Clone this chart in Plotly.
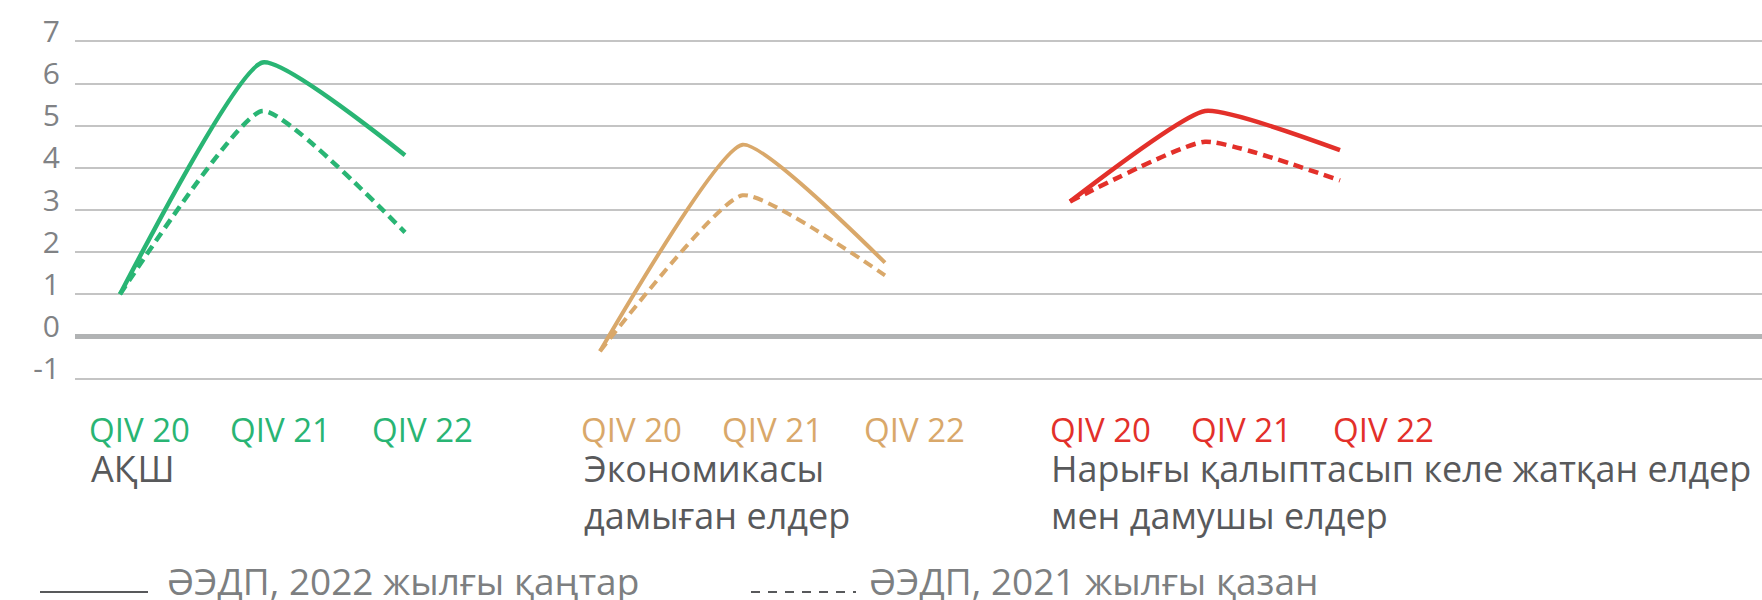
import plotly.graph_objects as go

# ---------------- data ----------------
quarters = ["QIV 20", "QIV 21", "QIV 22"]
groups = ["АҚШ", "Экономикасы<br>дамыған елдер", "Нарығы қалыптасып келе жатқан елдер<br>мен дамушы елдер"]
weo_jan_2022 = {  # solid
    "АҚШ": [1.0, 6.5, 4.3],
    "Экономикасы<br>дамыған елдер": [-0.35, 4.55, 1.75],
    "Нарығы қалыптасып келе жатқан елдер<br>мен дамушы елдер": [3.2, 5.35, 4.42],
}
weo_oct_2021 = {  # dashed
    "АҚШ": [1.0, 5.35, 2.47],
    "Экономикасы<br>дамыған елдер": [-0.35, 3.35, 1.45],
    "Нарығы қалыптасып келе жатқан елдер<br>мен дамушы елдер": [3.2, 4.62, 3.7],
}
y_ticks = [-1, 0, 1, 2, 3, 4, 5, 6, 7]
y_ticktext = ["-1", "0", "1", "2", "3", "4", "5", "6", "7"]
legend_solid = "ӘЭДП, 2022 жылғы қаңтар"
legend_dashed = "ӘЭДП, 2021 жылғы қазан"

# ---------------- layout / style ----------------
W, H = 1762, 600
ML, MR = 75, 0
MT, MB = 32.5, 212.5
PLOT_W = W - ML - MR
PLOT_H = H - MT - MB
colors = ["#29b574", "#d9a86a", "#e3302a"]
line_widths = [4.5, 4, 4.5]
group_x0 = [45, 525, 995]          # px offset of first point inside plot area
group_step = [142.5, 142.5, 135]
label_x0 = [64, 556, 1025]         # centres of quarter labels
label_step = 141.5
group_label_left = [15, 508, 975]
FONT = "Open Sans"


def py_to_paper(py):
    return (H - MB - py) / PLOT_H


def px_to_paper(px):
    return (px - ML) / PLOT_W


fig = go.Figure()
for g, name in enumerate(groups):
    xs = [group_x0[g] + i * group_step[g] for i in range(len(quarters))]
    fig.add_trace(go.Scatter(
        x=xs, y=weo_jan_2022[name], mode="lines",
        line=dict(color=colors[g], width=line_widths[g], shape="spline", smoothing=0.45),
        showlegend=False, hoverinfo="skip"))
    fig.add_trace(go.Scatter(
        x=xs, y=weo_oct_2021[name], mode="lines",
        line=dict(color=colors[g], width=line_widths[g], dash="10px,6px", shape="spline", smoothing=0.45),
        showlegend=False, hoverinfo="skip"))

annotations = []
for g, name in enumerate(groups):
    for i, q in enumerate(quarters):
        annotations.append(dict(
            x=label_x0[g] + i * label_step, xref="x",
            y=py_to_paper(406.5), yref="paper",
            xanchor="center", yanchor="top", showarrow=False, borderpad=0,
            text=q, font=dict(family=FONT, size=33, color=colors[g])))
    annotations.append(dict(
        x=group_label_left[g], xref="x",
        y=py_to_paper(444), yref="paper",
        xanchor="left", yanchor="top", align="left", showarrow=False, borderpad=0,
        text=name, font=dict(family=FONT, size=36, color="#58595b")))

annotations.append(dict(
    x=px_to_paper(166), xref="paper", y=py_to_paper(555), yref="paper",
    xanchor="left", yanchor="top", showarrow=False, borderpad=0, text=legend_solid,
    font=dict(family=FONT, size=37, color="#7d7f81")))
annotations.append(dict(
    x=px_to_paper(868), xref="paper", y=py_to_paper(555), yref="paper",
    xanchor="left", yanchor="top", showarrow=False, borderpad=0, text=legend_dashed,
    font=dict(family=FONT, size=37, color="#7d7f81")))

shapes = [
    dict(type="line", xref="paper", yref="paper",
         x0=px_to_paper(40), x1=px_to_paper(148), y0=py_to_paper(593), y1=py_to_paper(593),
         line=dict(color="#58595b", width=2)),
    dict(type="line", xref="paper", yref="paper",
         x0=px_to_paper(751), x1=px_to_paper(856), y0=py_to_paper(593), y1=py_to_paper(593),
         line=dict(color="#58595b", width=2, dash="9px,8px")),
]

fig.update_layout(
    width=W, height=H,
    margin=dict(l=ML, r=MR, t=MT, b=MB, pad=0, autoexpand=False),
    paper_bgcolor="white", plot_bgcolor="white",
    xaxis=dict(range=[0, PLOT_W], visible=False, fixedrange=True, automargin=False),
    yaxis=dict(range=[-1.2, 7.2], tickvals=y_ticks, ticktext=y_ticktext, showgrid=True,
               gridcolor="#c4c4c4", gridwidth=1.5,
               zeroline=True, zerolinecolor="#b1b3b4", zerolinewidth=5,
               showline=False, ticks="", automargin=False,
               tickfont=dict(family=FONT, size=30, color="#808285"),
               ticklabelstandoff=14, ticklabelshift=-10, fixedrange=True),
    annotations=annotations, shapes=shapes,
    showlegend=False,
)

fig.write_html("out.html", config={"displayModeBar": False},
               post_script="document.body.style.margin='0';document.body.style.overflow='hidden';")
